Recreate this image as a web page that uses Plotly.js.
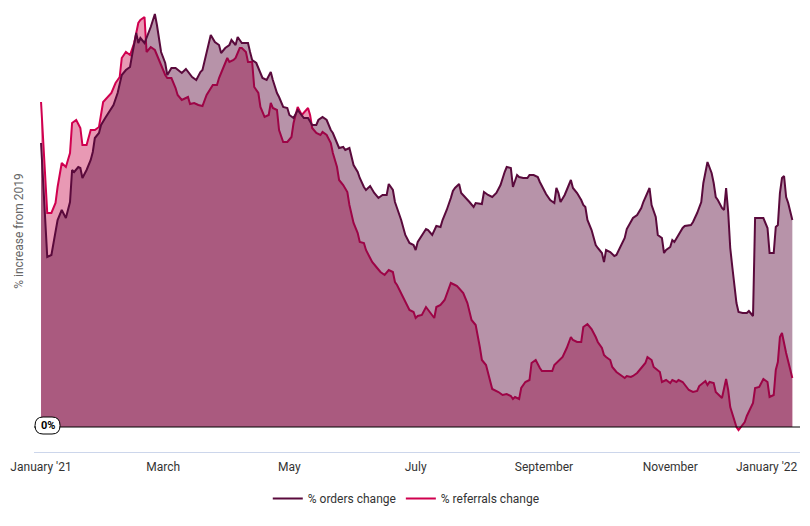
<!DOCTYPE html>
<html>
<head>
<meta charset="utf-8">
<script src="https://cdn.plot.ly/plotly-3.0.1.min.js"></script>
<style>
  html, body { margin: 0; padding: 0; background: #fff; }
  #plot { width: 810px; height: 526px; }
</style>
</head>
<body>
<div id="plot"></div>
<script>
// days since 1 Jan 2021
var ordersDay = [0,3,5,7,8,10,12,14,15,16,18,19,20,22,24,25,26,28,29,31,
  33,35,37,39,41,43,44,46,47,48,50,53,55,56,58,60,61,63,65,66,
  68,70,72,73,75,77,78,80,82,84,86,87,89,91,92,94,95,97,100,101,
  102,104,106,107,109,111,112,114,115,117,119,120,122,124,127,129,131,133,134,136,
  138,140,141,143,144,146,147,149,151,153,154,156,157,159,161,163,165,167,168,170,
  171,172,174,176,178,180,181,182,184,186,187,189,191,193,194,196,198,199,200,202,
  203,205,207,209,210,213,214,216,218,220,222,224,225,227,228,230,231,233,235,236,
  238,240,241,243,244,246,248,249,250,251,253,254,256,257,259,261,262,263,264,266,
  268,269,271,272,273,275,277,278,280,282,283,285,286,288,290,291,293,294,295,297,
  298,300,301,302,304,305,306,308,310,311,313,314,315,317,319,320,322,324,325,326,
  327,329,330,331,332,333,334,336,337,339,341,342,344,345,347,349,351,352,354,355,
  356,357,358,359,360,361,363];
var ordersPct = [71,42.5,43,49.25,51.75,54.25,52.25,56.25,64.25,63.75,65,64.75,62.25,64.25,66.75,68.75,72.25,73.5,75.5,77.25,
  78.75,80.5,83.5,88,89.25,90,93,98.5,96,97.25,96,100,103.25,100.5,93.75,91,88,89.75,89.75,89.25,
  88.5,89.5,88,87.5,86.75,88.75,89.25,93.5,98,96.25,95.5,93.5,94.75,95.5,96.75,95.5,97.5,96,96,93.75,
  91.75,91,88.75,87.25,86.75,88.75,86.75,83.5,82.5,80,79.75,78,77.25,79.25,77.25,77.25,75.5,75.5,76.75,77.5,
  76.75,74.25,73.5,71.25,69.75,70,69.25,69.75,65.5,63.75,62.25,60,59.25,60.25,58.5,57.25,58,58,60.75,59.25,
  56.25,54.75,51.75,48,46,45.5,44.25,46.25,48,49.5,49.25,48,50.25,50,51.75,54.25,57.25,59,59.75,60.75,
  58.5,57.5,56.25,55,56,55.75,58.75,58,57.5,58.5,60.5,63.75,65,64.75,60,63,62.5,62.25,62.25,63,
  63,62.5,61.25,59.25,58.25,56.75,56,59.75,58.5,56.25,58,59.25,61.75,59.75,58.5,56.75,55.5,55,51.75,49.25,
  45.5,44.75,43.5,41.25,44.25,43.75,42.75,43,45,47.25,49.5,51.25,52.25,53,54.75,56.25,58.5,59.75,55.5,52.5,
  48,47.25,43.5,44.25,45,46.75,46.25,48,49.75,50.25,50.5,50.5,51.25,53.5,56.25,61,66.25,63.5,61,57.5,
  56.75,54.75,54.25,59.75,53.75,44.75,40,31,28.75,28.5,28.5,29,27.75,52.25,52.25,52.25,49.75,43.5,43.5,50,
  50.5,58.5,62.25,62.75,57.5,56,51.75];

var referralsDay = [0,3,5,7,8,10,12,14,15,17,19,20,22,24,26,28,30,32,34,36,
  38,39,41,43,45,47,48,50,51,53,55,57,59,60,61,63,65,66,68,70,
  71,72,74,76,78,80,81,83,85,86,88,90,91,93,94,96,97,99,100,102,
  103,105,106,108,110,111,112,114,115,117,119,121,122,124,126,127,129,130,131,133,
  135,136,138,140,141,143,144,146,148,149,151,153,154,156,157,159,160,162,164,166,
  168,170,171,172,174,176,178,180,181,182,184,186,188,190,191,193,195,198,200,201,
  204,206,208,210,212,213,215,217,218,221,223,225,227,228,229,231,232,234,236,237,
  239,241,242,244,247,248,250,252,254,256,257,259,261,262,264,266,268,269,271,272,
  273,275,276,278,280,282,283,285,286,288,290,292,293,295,296,298,299,300,302,304,
  305,307,308,310,312,313,315,317,318,320,321,322,323,325,326,328,329,331,332,333,
  334,336,337,338,340,341,343,344,345,347,349,351,352,354,355,356,357,358,360,361,
  363];
var referralsPct = [81.25,53.5,53.5,56,60,66,65,68.5,76,76.75,74.75,70.5,70.5,74.25,74.25,75,81.25,82.25,83.5,86,
  87.5,92.25,93.75,93,96,101,101.75,102.5,93.75,95,94.25,91.75,89.25,88,87.25,87.25,84.75,83,81.75,82.25,
  82.5,80.75,81,80.5,80.25,83,83.75,85.5,85.5,87.25,89.75,92.25,91.25,91.75,92.25,94.75,94.75,93.75,91.25,91.25,
  85,83.5,80,77.5,78,81,79.75,79.25,74.25,71.25,71.25,72.5,76,80,78,78.5,79.75,78,74.75,73.5,
  73,73.75,73,71,68.5,65,61.75,60.5,58.75,55.5,51,48.5,46.25,46,44.25,42.25,41.25,40,38.75,38,
  39.25,38.75,36.25,35.5,33.5,31.25,29.25,28.75,27.25,27.75,28,30,28.75,27.25,30,30.5,31.75,36,35.5,35.25,
  33.5,31,26.75,25.5,20,16.75,15.5,11.75,9.5,8.75,8,8.25,7.75,7,7.5,7,9.75,11.25,11.75,16,
  16.75,14.75,14,14,14,15.5,16.5,17.5,19.75,22.5,21.75,21.25,21.25,25,25.75,24.5,22.5,21.25,19.75,18,
  17.5,16.75,15,13.75,13,12.25,12.75,12.5,12.75,13.5,14.75,16,17.5,16.75,15,14.25,13.75,11.25,11.75,11,
  11.75,11.25,11.75,11.25,10,9.25,8.75,9,10.25,11.25,11.5,10.5,11.25,11,8.75,7.75,7.25,12,9.25,5,
  3.5,0,-0.75,0,1.25,2.75,5,6,9.75,10,12,11.25,7.5,8,14.25,16.25,22.5,23.5,18.5,16.25,
  12.25];

var tickDays = [0, 59, 120, 181, 243, 304];
var tickLabels = ["January '21", "March", "May", "July", "September", "November"];
var lastTickLabel = "January '22";

var startMs = Date.UTC(2021, 0, 1);
function dayToDate(d) {
  return new Date(startMs + d * 86400000).toISOString().replace('Z', '');
}

var ordersColor = '#5a0a3c';
var referralsColor = '#d0004f';

// referrals area + line, then orders area over it, then orders line on top
var refFill = {
  x: referralsDay.map(dayToDate), y: referralsPct,
  type: 'scatter', mode: 'lines', fill: 'tozeroy',
  fillcolor: 'rgba(197,0,67,0.4)',
  line: {width: 0}, showlegend: false, hoverinfo: 'skip'
};
var refLine = {
  x: referralsDay.map(dayToDate), y: referralsPct,
  type: 'scatter', mode: 'lines',
  line: {color: referralsColor, width: 2},
  name: '% referrals change', legendrank: 2, hoverinfo: 'skip'
};
var ordFill = {
  x: ordersDay.map(dayToDate), y: ordersPct,
  type: 'scatter', mode: 'lines', fill: 'tozeroy',
  fillcolor: 'rgba(92,10,60,0.44)',
  line: {width: 0}, showlegend: false, hoverinfo: 'skip'
};
var ordLine = {
  x: ordersDay.map(dayToDate), y: ordersPct,
  type: 'scatter', mode: 'lines',
  line: {color: ordersColor, width: 2},
  name: '% orders change', legendrank: 1, hoverinfo: 'skip'
};

var layout = {
  width: 810, height: 526,
  margin: {l: 34, r: 10, t: 10, b: 74},
  paper_bgcolor: '#fff', plot_bgcolor: '#fff',
  font: {family: 'Roboto, sans-serif', size: 12, color: '#333'},
  showlegend: true,
  legend: {
    orientation: 'h', x: 0.486, xanchor: 'center', y: -0.105, yanchor: 'middle',
    font: {size: 12, color: '#333'}, itemwidth: 30
  },
  xaxis: {
    type: 'date',
    range: [dayToDate(-3.4), dayToDate(366.7)],
    tickvals: tickDays.map(dayToDate), ticktext: tickLabels,
    showgrid: false, zeroline: false,
    showline: true, linecolor: '#ccd6eb', linewidth: 1,
    ticks: '', ticklabelstandoff: 4, tickfont: {size: 12, color: '#333'},
    fixedrange: true
  },
  yaxis: {
    range: [-6.25, 104.25],
    showgrid: false, zeroline: false, showticklabels: false, ticks: '',
    title: {text: '% increase from 2019', font: {size: 12, color: '#666'}, standoff: 6},
    fixedrange: true
  },
  shapes: [
    {type: 'line', xref: 'paper', x0: 0, x1: 1, yref: 'y', y0: 0, y1: 0,
     line: {color: '#000', width: 1}, layer: 'above'},
    {type: 'path', layer: 'above',
     xref: 'x', xsizemode: 'pixel', xanchor: dayToDate(0),
     yref: 'y', ysizemode: 'pixel', yanchor: 0,
     path: 'M 2,10 L 11,10 Q 19,10 19,1.5 Q 19,-7 11,-7 L 2,-7 Q -6,-7 -6,1.5 Q -6,10 2,10 Z',
     fillcolor: '#fff', line: {color: '#000', width: 1}}
  ],
  annotations: [
    {x: dayToDate(0), y: 0, xref: 'x', yref: 'y', text: '<b>0%</b>', showarrow: false,
     xshift: 6.5, yshift: 1.5, font: {size: 11, color: '#000'}},
    {x: 1, xref: 'paper', xanchor: 'right', y: 0, yref: 'paper', yanchor: 'top',
     yshift: -6, text: lastTickLabel, showarrow: false, font: {size: 12, color: '#333'}}
  ]
};

Plotly.newPlot('plot', [refFill, refLine, ordFill, ordLine], layout, {displayModeBar: false, staticPlot: true});
</script>
</body>
</html>
